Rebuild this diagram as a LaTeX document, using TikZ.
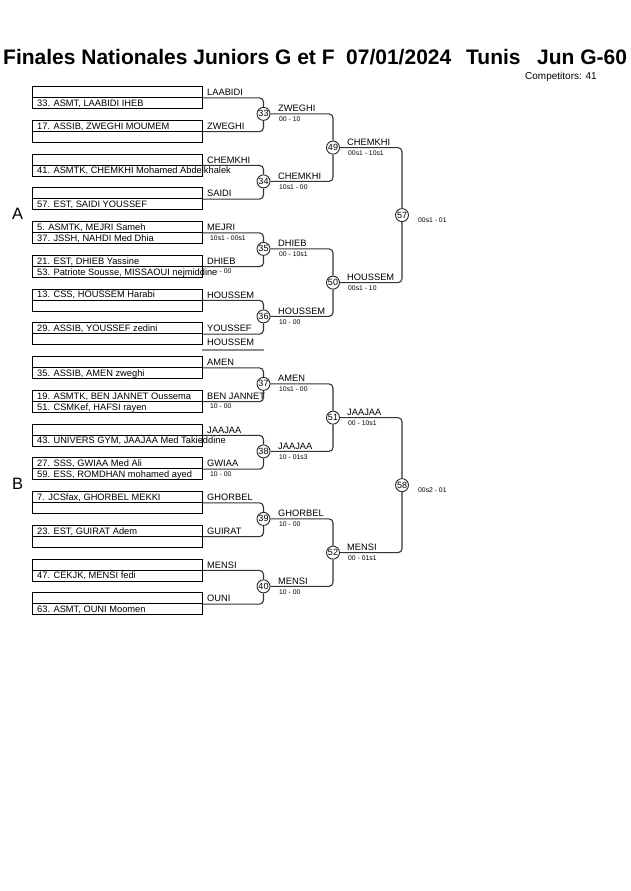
\documentclass[tikz,border=0pt]{standalone}
\usepackage{fontspec}
\setmainfont{Liberation Sans}
\begin{document}
\begin{tikzpicture}[x=1pt,y=-1pt,
  rowbox/.style={draw=black,line width=0.9pt,minimum width=170pt,minimum height=11pt,inner sep=0pt,anchor=north west},
  conn/.style={draw=black!80,line width=1.1pt,rounded corners=4pt},
  mcirc/.style={circle,draw=black!85,line width=0.9pt,fill=white,minimum size=13pt,inner sep=0pt,font=\fontsize{9}{9}\selectfont},
  nametxt/.style={anchor=base west,inner sep=0pt,fill=white,font=\fontsize{9.3}{10}\selectfont},
  wtxt/.style={anchor=base west,inner sep=0pt,font=\fontsize{9.3}{10}\selectfont},
  scoretxt/.style={anchor=base west,inner sep=0pt,font=\fontsize{6.8}{7}\selectfont},
  titletxt/.style={anchor=base west,inner sep=0pt,font=\bfseries\fontsize{21}{21}\selectfont},
  grayline/.style={draw=black!45,line width=1.4pt}]
\useasboundingbox (0,0) rectangle (630,891);

% title
\node[titletxt] (t1) at (3,65) {Finales Nationales Juniors G et F};
\node[titletxt] (t2) at (346,65) {07/01/2024};
\node[titletxt] (t3) at (466,65) {Tunis};
\node[titletxt] (t4) at (537,65) {Jun G-60};
\node[anchor=base west,inner sep=0pt,font=\fontsize{10}{10}\selectfont] (comp) at (525,79) {Competitors: 41};

% pool letters
\node[anchor=base west,inner sep=0pt,font=\fontsize{16.5}{16}\selectfont] (poolA) at (12,219) {A};
\node[anchor=base west,inner sep=0pt,font=\fontsize{16.5}{16}\selectfont] (poolB) at (12,489) {B};

% first-round scores (drawn first, names may cover them)
\foreach \k/\sc in {4/{10s1 - 00s1},5/{10 - 00},9/{10 - 00},11/{10 - 00}}{
  \pgfmathsetmacro\t{86+33.75*\k}
  \node[scoretxt] (s\k) at (210,\t+19) {\sc};
}

% names and labels
\foreach \k/\up/\lo/\lab in {
  0/{}/{33. ASMT, LAABIDI IHEB}/LAABIDI,
  1/{17. ASSIB, ZWEGHI MOUMEM}/{}/ZWEGHI,
  2/{}/{41. ASMTK, CHEMKHI Mohamed Abdelkhalek}/CHEMKHI,
  3/{}/{57. EST, SAIDI YOUSSEF}/SAIDI,
  4/{5. ASMTK, MEJRI Sameh}/{37. JSSH, NAHDI Med Dhia}/MEJRI,
  5/{21. EST, DHIEB Yassine}/{53. Patriote Sousse, MISSAOUI nejmiddine}/DHIEB,
  6/{13. CSS, HOUSSEM Harabi}/{}/HOUSSEM,
  7/{29. ASSIB, YOUSSEF zedini}/{}/YOUSSEF,
  8/{}/{35. ASSIB, AMEN zweghi}/AMEN,
  9/{19. ASMTK, BEN JANNET Oussema}/{51. CSMKef, HAFSI rayen}/{BEN JANNET},
  10/{}/{43. UNIVERS GYM, JAAJAA Med Takieddine}/JAAJAA,
  11/{27. SSS, GWIAA Med Ali}/{59. ESS, ROMDHAN mohamed ayed}/GWIAA,
  12/{7. JCSfax, GHORBEL MEKKI}/{}/GHORBEL,
  13/{23. EST, GUIRAT Adem}/{}/GUIRAT,
  14/{}/{47. CEKJK, MENSI fedi}/MENSI,
  15/{}/{63. ASMT, OUNI Moomen}/OUNI}{
  \pgfmathsetmacro\t{86+33.75*\k}
  \node[nametxt] (nu\k) at (37,\t+9.3) {\up};
  \node[nametxt] (nl\k) at (37,\t+20.3) {\lo};
  \node[wtxt] (lab\k) at (207,\t+9.5) {\lab};
}

% extra label with gray line
\node[wtxt] (extra) at (207,345.5) {HOUSSEM};
\coordinate (g1) at (202,350);
\coordinate (g2) at (263.5,350);
\draw[grayline] (g1) -- (g2);

% boxes
\foreach \k in {0,...,15}{
  \pgfmathsetmacro\t{86+33.75*\k}
  \node[rowbox] (bu\k) at (32,\t) {};
  \node[rowbox] (bl\k) at (32,\t+11) {};
  \coordinate (r\k) at (bu\k.south east);
}

% round 1 circles
\foreach \n [count=\j from 0] in {33,...,40}{
  \pgfmathsetmacro\yy{113.875+67.5*\j}
  \node[mcirc] (m\n) at (263.5,\yy) {\n};
}
% round 2 circles
\foreach \n [count=\j from 0] in {49,...,52}{
  \pgfmathsetmacro\yy{147.625+135*\j}
  \node[mcirc] (m\n) at (333,\yy) {\n};
}
\node[mcirc] (m57) at (402,215.125) {57};
\node[mcirc] (m58) at (402,485.125) {58};

% round 1 connectors
\foreach \n/\a/\b in {33/0/1,34/2/3,35/4/5,36/6/7,37/8/9,38/10/11,39/12/13,40/14/15}{
  \draw[conn] (r\a) -| (m\n.north);
  \draw[conn] (r\b) -| (m\n.south);
}
% round 2 connectors
\foreach \n/\a/\b in {49/33/34,50/35/36,51/37/38,52/39/40}{
  \draw[conn] (m\a.east) -| (m\n.north);
  \draw[conn] (m\b.east) -| (m\n.south);
}
% round 3 connectors
\foreach \n/\a/\b in {57/49/50,58/51/52}{
  \draw[conn] (m\a.east) -| (m\n.north);
  \draw[conn] (m\b.east) -| (m\n.south);
}

% round 1 winners
\foreach \n/\w/\sc in {33/ZWEGHI/{00 - 10},34/CHEMKHI/{10s1 - 00},35/DHIEB/{00 - 10s1},36/HOUSSEM/{10 - 00},37/AMEN/{10s1 - 00},38/JAAJAA/{10 - 01s3},39/GHORBEL/{10 - 00},40/MENSI/{10 - 00}}{
  \path (m\n) ++(14.5,-2.3) node[wtxt] (w\n) {\w};
  \path (m\n) ++(15.5,8) node[scoretxt] (ws\n) {\sc};
}
% round 2 winners
\foreach \n/\w/\sc in {49/CHEMKHI/{00s1 - 10s1},50/HOUSSEM/{00s1 - 10},51/JAAJAA/{00 - 10s1},52/MENSI/{00 - 01s1}}{
  \path (m\n) ++(14,-2.3) node[wtxt] (w\n) {\w};
  \path (m\n) ++(15,8) node[scoretxt] (ws\n) {\sc};
}
% final scores
\path (m57) ++(16,7) node[scoretxt] (ws57) {00s1 - 01};
\path (m58) ++(16,7) node[scoretxt] (ws58) {00s2 - 01};
\end{tikzpicture}
\end{document}
